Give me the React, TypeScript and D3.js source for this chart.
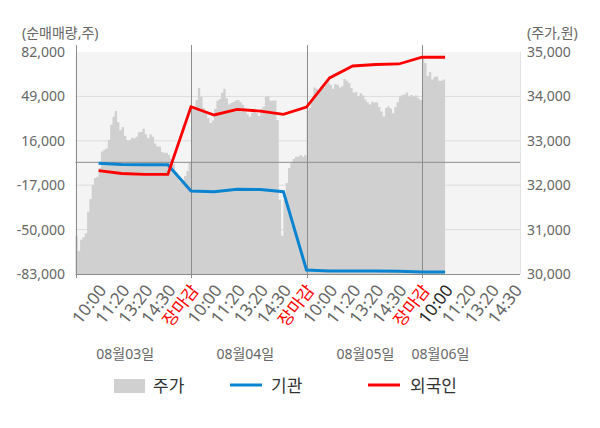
import React, { useEffect, useRef } from 'react';
import * as d3 from 'd3';

const WIDTH = 600;
const HEIGHT = 428;

// x축: 하루 5칸 (10:00 ~ 장마감)
const timeLabels = ['10:00', '11:20', '13:20', '14:30', '장마감'];
const dates = ['08월03일', '08월04일', '08월05일', '08월06일'];
const datePos = [2.15, 7.35, 12.55, 15.8];
const lastDayTicks = 4;

const leftTicks = [82000, 49000, 16000, -17000, -50000, -83000];
const rightTicks = [35000, 34000, 33000, 32000, 31000, 30000];

// 기관 / 외국인 순매매량 (각 시간 라벨 위치)
const institution = [-700, -1600, -1800, -1800, -21300, -21800, -20000, -20200, -21800, -80000, -80800, -80800, -80800, -81000, -81500, -81500];
const foreign = [-6200, -8300, -8900, -8900, 41300, 35200, 39400, 38100, 35700, 41100, 62700, 71600, 72700, 73100, 78100, 78100];

// 주가 (1/10칸 간격)
const price0803 = [
  30860, 30520, 30770, 30830, 30920, 31400, 31690, 32000, 32160, 32190,
  32390, 32760, 32800, 32830, 33020, 33360, 33540, 33670, 33420, 33240,
  33310, 33110, 33020, 33020, 33070, 33050, 33090, 33190, 33200, 33270,
  33150, 33060, 33150, 33090, 32940, 32870, 32870, 32750, 32730, 32730,
  32680, 32590, 32470, 32300, 32160, 32080, 32110, 32210, 32320, 32520,
];
const price0804 = [
  33780, 33780, 33920, 34190, 33990, 33740, 33670, 33510, 33400, 33460,
  33720, 33900, 33940, 34080, 34170, 33960, 33820, 33850, 33880, 33910,
  33920, 33870, 33810, 33740, 33600, 33540, 33630, 33650, 33620, 33560,
  33720, 33770, 33990, 34010, 33900, 33900, 33910, 33470, 31670, 30860,
  31670, 32050, 32390, 32500, 32590, 32640, 32640, 32680, 32640, 32680,
];
const price0805 = [
  33690, 33740, 33920, 34200, 34170, 34120, 34230, 34190, 34260, 34320,
  34260, 34170, 34280, 34260, 34200, 34230, 34390, 34350, 34300, 34190,
  34080, 34100, 34010, 34070, 34020, 33930, 33870, 33820, 33880, 33860,
  33860, 33760, 33660, 33550, 33740, 33780, 33730, 33620, 33760, 33870,
  33990, 34030, 34040, 34090, 34000, 34030, 33990, 34020, 33960, 33920,
];
const price0806 = [34840, 34750, 34460, 34550, 34380, 34440, 34450, 34350, 34350, 34380];

const FONT = '"Noto Sans", "Noto Sans CJK KR", sans-serif';
const fmt = (v: number) => d3.format(',')(v).replace('\u2212', '-');

const App: React.FC = () => {
  const svgRef = useRef<SVGSVGElement>(null);

  useEffect(() => {
    document.body.style.margin = '0';
    if (!svgRef.current) return;
    const svg = d3.select(svgRef.current);
    svg.selectAll('*').remove();

    const plot = { left: 75.5, right: 520, top: 52, bottom: 274 };
    const slotPx = 23.1;

    const x = d3.scaleLinear()
      .domain([0, (plot.right - plot.left) / slotPx])
      .range([plot.left, plot.right]);
    const yLeft = d3.scaleLinear().domain([-83000, 82000]).range([plot.bottom, plot.top]);
    const yRight = d3.scaleLinear().domain([30000, 35000]).range([plot.bottom, plot.top]);

    svg.append('rect')
      .attr('x', plot.left).attr('y', plot.top)
      .attr('width', plot.right - plot.left).attr('height', plot.bottom - plot.top)
      .attr('fill', '#f4f4f4');

    // grid
    svg.selectAll('.grid')
      .data(leftTicks.slice(1, -1))
      .enter().append('line')
      .attr('x1', plot.left).attr('x2', plot.right)
      .attr('y1', d => yLeft(d)).attr('y2', d => yLeft(d))
      .attr('stroke', '#dcdcdc').attr('stroke-width', 1);

    // price area
    const prices = [...price0803, ...price0804, ...price0805, ...price0806];
    const pts: [number, number][] = prices.map((v, i) => [i / 10, v]);
    pts.push([prices.length / 10, prices[prices.length - 1]]);
    const area = d3.area<[number, number]>()
      .x(d => x(d[0]))
      .y0(plot.bottom)
      .y1(d => yRight(d[1]))
      .curve(d3.curveStepAfter);
    svg.append('path').attr('d', area(pts)).attr('fill', '#d0d0d0');

    // zero line
    svg.append('line')
      .attr('x1', plot.left).attr('x2', plot.right)
      .attr('y1', yLeft(0)).attr('y2', yLeft(0))
      .attr('stroke', '#8c8c8c').attr('stroke-width', 1);

    // right border
    svg.append('line')
      .attr('x1', plot.right + 0.5).attr('x2', plot.right + 0.5)
      .attr('y1', plot.top).attr('y2', plot.bottom)
      .attr('stroke', '#e2e2e2');

    // day dividers + left axis
    const dividers = [0, 5, 10, 15];
    svg.selectAll('.div')
      .data(dividers)
      .enter().append('line')
      .attr('x1', d => Math.round(x(d)) + 0.5).attr('x2', d => Math.round(x(d)) + 0.5)
      .attr('y1', 45).attr('y2', plot.bottom + 4)
      .attr('stroke', '#8c8c8c').attr('stroke-width', 1);

    svg.append('line')
      .attr('x1', plot.left).attr('x2', plot.right)
      .attr('y1', plot.bottom + 0.5).attr('y2', plot.bottom + 0.5)
      .attr('stroke', '#8c8c8c');

    // lines
    const line = d3.line<number>()
      .x((_, i) => x(i + 1))
      .y(d => yLeft(d));
    svg.append('path').attr('d', line(institution))
      .attr('fill', 'none').attr('stroke', '#0a84d0').attr('stroke-width', 3);
    svg.append('path').attr('d', line(foreign))
      .attr('fill', 'none').attr('stroke', '#ff0000').attr('stroke-width', 2.8);

    // axis labels
    const txt = svg.append('g').attr('font-family', FONT);
    txt.selectAll('.lt')
      .data(leftTicks)
      .enter().append('text')
      .attr('x', 65).attr('y', d => yLeft(d))
      .attr('dy', '0.35em').attr('text-anchor', 'end')
      .attr('font-size', 14).attr('fill', '#666')
      .text(d => fmt(d));
    txt.selectAll('.rt')
      .data(rightTicks)
      .enter().append('text')
      .attr('x', 527).attr('y', d => yRight(d))
      .attr('dy', '0.35em').attr('text-anchor', 'start')
      .attr('font-size', 14).attr('fill', '#666')
      .text(d => fmt(d));

    txt.append('text').attr('x', 22).attr('y', 33).attr('dy', '0.35em')
      .attr('font-size', 14).attr('fill', '#666').text('(순매매량,주)');
    txt.append('text').attr('x', 527).attr('y', 33).attr('dy', '0.35em')
      .attr('font-size', 14).attr('fill', '#666').text('(주가,원)');

    // time tick labels
    const ticks: { p: number; label: string; color: string }[] = [];
    dates.forEach((_, d) => {
      const n = d === dates.length - 1 ? lastDayTicks : timeLabels.length;
      for (let k = 0; k < n; k++) {
        const label = timeLabels[k];
        let color = '#666';
        if (label === '장마감') color = '#ff0000';
        if (d === dates.length - 1 && k === 0) color = '#222';
        ticks.push({ p: d * 5 + k + 1, label, color });
      }
    });
    txt.selectAll('.xt')
      .data(ticks)
      .enter().append('text')
      .attr('transform', d => `translate(${x(d.p) + 4},${plot.bottom + 13}) rotate(-52)`)
      .attr('dy', '0.35em').attr('text-anchor', 'end')
      .attr('font-size', 17).attr('fill', d => d.color)
      .text(d => d.label);

    txt.selectAll('.dt')
      .data(dates)
      .enter().append('text')
      .attr('x', (_, i) => x(datePos[i])).attr('y', 354)
      .attr('dy', '0.35em').attr('text-anchor', 'middle')
      .attr('font-size', 14).attr('fill', '#666')
      .text(d => d);

    // legend
    const lg = svg.append('g').attr('font-family', FONT).attr('font-size', 17).attr('fill', '#333');
    lg.append('rect').attr('x', 114).attr('y', 379).attr('width', 31).attr('height', 14).attr('fill', '#d0d0d0');
    lg.append('text').attr('x', 153).attr('y', 386).attr('dy', '0.35em').text('주가');
    lg.append('line').attr('x1', 230).attr('x2', 262).attr('y1', 385).attr('y2', 385)
      .attr('stroke', '#0a84d0').attr('stroke-width', 3);
    lg.append('text').attr('x', 271).attr('y', 386).attr('dy', '0.35em').text('기관');
    lg.append('line').attr('x1', 368).attr('x2', 400).attr('y1', 385).attr('y2', 385)
      .attr('stroke', '#ff0000').attr('stroke-width', 3);
    lg.append('text').attr('x', 410).attr('y', 386).attr('dy', '0.35em').text('외국인');
  }, []);

  return <svg ref={svgRef} width={WIDTH} height={HEIGHT} style={{ display: 'block', background: '#fff' }} />;
};

export default App;
